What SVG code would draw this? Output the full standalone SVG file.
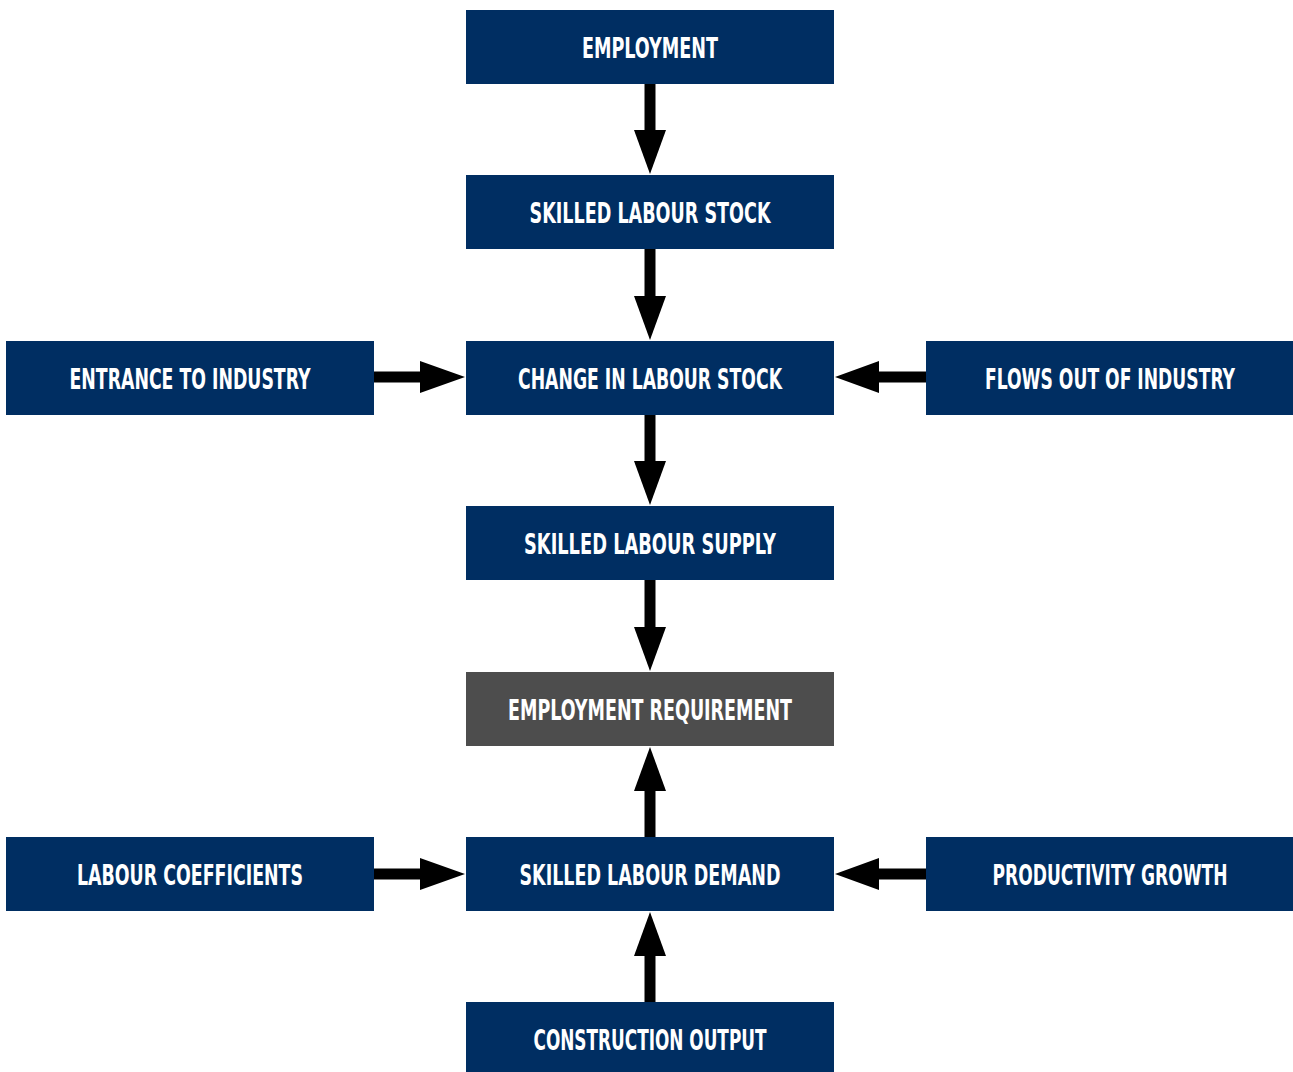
<svg xmlns="http://www.w3.org/2000/svg" width="1293" height="1072" viewBox="0 0 1293 1072">
<style>
.box{fill:#002e62}
.gray{fill:#4d4d4d}
.lbl{font-family:"DejaVu Sans Condensed","Liberation Sans Narrow","Liberation Sans",sans-serif;font-weight:bold;font-size:29px;fill:#ffffff;text-anchor:middle}
.sh{stroke:#000;stroke-width:11;fill:none}
.hd{fill:#000}
</style>
<rect width="1293" height="1072" fill="#fff"/>
<g id="connectors">
<line class="sh" x1="650" y1="84" x2="650" y2="131"/><polygon class="hd" points="634,130 666,130 650,174"/>
<line class="sh" x1="650" y1="249" x2="650" y2="297"/><polygon class="hd" points="634,296 666,296 650,340"/>
<line class="sh" x1="650" y1="415" x2="650" y2="462"/><polygon class="hd" points="634,461 666,461 650,505"/>
<line class="sh" x1="650" y1="580" x2="650" y2="628"/><polygon class="hd" points="634,627 666,627 650,671"/>
<line class="sh" x1="650" y1="837" x2="650" y2="790"/><polygon class="hd" points="634,791 666,791 650,747"/>
<line class="sh" x1="650" y1="1002" x2="650" y2="955"/><polygon class="hd" points="634,956 666,956 650,912"/>
<line class="sh" x1="374" y1="377" x2="421" y2="377"/><polygon class="hd" points="420,361 420,393 465,377"/>
<line class="sh" x1="926" y1="377" x2="878" y2="377"/><polygon class="hd" points="879,361 879,393 835,377"/>
<line class="sh" x1="374" y1="874" x2="421" y2="874"/><polygon class="hd" points="420,858 420,890 465,874"/>
<line class="sh" x1="926" y1="874" x2="878" y2="874"/><polygon class="hd" points="879,858 879,890 835,874"/>
</g>
<g id="employment"><rect class="box" x="466" y="10" width="368" height="74"/><text class="lbl" x="650" y="58" textLength="136" lengthAdjust="spacingAndGlyphs">EMPLOYMENT</text></g>
<g id="skilled-labour-stock"><rect class="box" x="466" y="175" width="368" height="74"/><text class="lbl" x="650" y="223" textLength="241" lengthAdjust="spacingAndGlyphs">SKILLED LABOUR STOCK</text></g>
<g id="entrance-to-industry"><rect class="box" x="6" y="341" width="368" height="74"/><text class="lbl" x="190" y="389" textLength="241" lengthAdjust="spacingAndGlyphs">ENTRANCE TO INDUSTRY</text></g>
<g id="change-in-labour-stock"><rect class="box" x="466" y="341" width="368" height="74"/><text class="lbl" x="650" y="389" textLength="264" lengthAdjust="spacingAndGlyphs">CHANGE IN LABOUR STOCK</text></g>
<g id="flows-out-of-industry"><rect class="box" x="926" y="341" width="367" height="74"/><text class="lbl" x="1110" y="389" textLength="250" lengthAdjust="spacingAndGlyphs">FLOWS OUT OF INDUSTRY</text></g>
<g id="skilled-labour-supply"><rect class="box" x="466" y="506" width="368" height="74"/><text class="lbl" x="650" y="554" textLength="252" lengthAdjust="spacingAndGlyphs">SKILLED LABOUR SUPPLY</text></g>
<g id="employment-requirement"><rect class="gray" x="466" y="672" width="368" height="74"/><text class="lbl" x="650" y="720" textLength="284" lengthAdjust="spacingAndGlyphs">EMPLOYMENT REQUIREMENT</text></g>
<g id="labour-coefficients"><rect class="box" x="6" y="837" width="368" height="74"/><text class="lbl" x="190" y="885" textLength="226" lengthAdjust="spacingAndGlyphs">LABOUR COEFFICIENTS</text></g>
<g id="skilled-labour-demand"><rect class="box" x="466" y="837" width="368" height="74"/><text class="lbl" x="650" y="885" textLength="261" lengthAdjust="spacingAndGlyphs">SKILLED LABOUR DEMAND</text></g>
<g id="productivity-growth"><rect class="box" x="926" y="837" width="367" height="74"/><text class="lbl" x="1110" y="885" textLength="235" lengthAdjust="spacingAndGlyphs">PRODUCTIVITY GROWTH</text></g>
<g id="construction-output"><rect class="box" x="466" y="1002" width="368" height="70"/><text class="lbl" x="650" y="1050" textLength="233" lengthAdjust="spacingAndGlyphs">CONSTRUCTION OUTPUT</text></g>
</svg>
